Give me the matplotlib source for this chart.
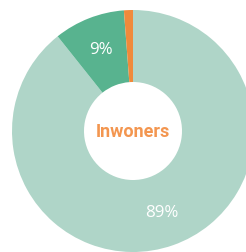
import matplotlib
matplotlib.use('Agg')
import matplotlib.pyplot as plt

labels = ['89%', '9%', '']
values = [89.3, 9.5, 1.2]
colors = ['#afd5c8', '#58b38f', '#f08a3b']
center_text = 'Inwoners'

fig = plt.figure(figsize=(2.46, 2.52), dpi=100)
ax = fig.add_axes([0, 0, 1, 1])

wedges, texts = ax.pie(values, colors=colors, startangle=90, counterclock=False,
                       radius=1.0, labels=labels, labeldistance=0.715,
                       wedgeprops=dict(width=0.595, linewidth=0),
                       textprops=dict(color='white', fontsize=12.2, family='Open Sans'))
for t in texts:
    t.set_ha('center')
    t.set_va('center')

ax.text(0, -0.01, center_text, ha='center', va='center', color='#f39650',
        fontsize=13, fontweight='bold', family='Roboto')

# place center at (133, 131) px, radius 121 px
ax.set_xlim(-133 / 121, (246 - 133) / 121)
ax.set_ylim(-(252 - 131) / 121, 131 / 121)
ax.set_aspect('auto')
ax.axis('off')

fig.savefig('out.png', dpi=100)
